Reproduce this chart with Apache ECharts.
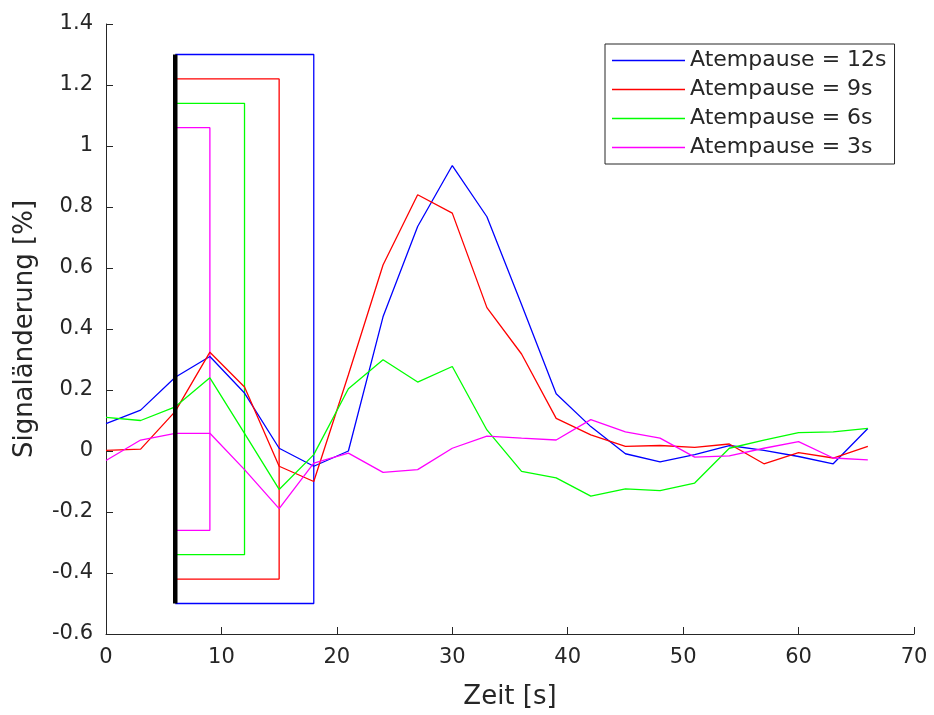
<!DOCTYPE html>
<html>
<head>
<meta charset="utf-8">
<script src="https://cdn.jsdelivr.net/npm/echarts@6/dist/echarts.min.js"></script>
<style>
  html, body { margin: 0; padding: 0; background: #ffffff; }
  #chart { width: 934px; height: 715px; }
</style>
</head>
<body>
<div id="chart"></div>
<script>
// ---- data ----
const time = [0, 3, 6, 9, 12, 15, 18, 21, 24, 27, 30, 33, 36, 39, 42, 45, 48, 51, 54, 57, 60, 63, 66];
const pause12 = [0.09, 0.134, 0.242, 0.31, 0.19, 0.009, -0.05, 0.0, 0.44, 0.736, 0.936, 0.768, 0.48, 0.188, 0.08, -0.009, -0.036, -0.012, 0.018, 0.002, -0.018, -0.042, 0.074];
const pause9 = [0.002, 0.006, 0.13, 0.324, 0.21, -0.05, -0.1, 0.25, 0.61, 0.84, 0.78, 0.47, 0.318, 0.107, 0.053, 0.015, 0.018, 0.012, 0.023, -0.042, -0.005, -0.023, 0.015];
const pause6 = [0.11, 0.10, 0.145, 0.24, 0.058, -0.126, -0.012, 0.204, 0.299, 0.226, 0.277, 0.069, -0.067, -0.088, -0.148, -0.124, -0.13, -0.105, 0.009, 0.036, 0.06, 0.063, 0.074];
const pause3 = [-0.031, 0.036, 0.058, 0.058, -0.061, -0.189, -0.04, -0.007, -0.07, -0.061, 0.009, 0.049, 0.042, 0.036, 0.103, 0.063, 0.042, -0.02, -0.016, 0.009, 0.031, -0.023, -0.029];
const seriesNames = ['Atempause = 12s', 'Atempause = 9s', 'Atempause = 6s', 'Atempause = 3s'];
// breath-hold interval boxes
const holdStart = 6;
const holdEnd = [18, 15, 12, 9];
const boxTop = [1.3, 1.22, 1.14, 1.06];
const boxBottom = [-0.5, -0.42, -0.34, -0.26];
const barTop = 1.3;
const barBottom = -0.5;
const xTicks = [0, 10, 20, 30, 40, 50, 60, 70];
const yTicks = [-0.6, -0.4, -0.2, 0, 0.2, 0.4, 0.6, 0.8, 1, 1.2, 1.4];

const colors = ['#0000ff', '#ff0000', '#00ff00', '#ff00ff'];
const values = [pause12, pause9, pause6, pause3];
const axisColor = '#262626';
const font = 'DejaVu Sans';

const series = [];
// boxes
for (let i = 0; i < 4; i++) {
  series.push({
    name: 'box' + i,
    type: 'line',
    silent: true,
    symbol: 'none',
    animation: false,
    lineStyle: { color: colors[i], width: 1.3 },
    data: [[holdStart, boxTop[i]], [holdEnd[i], boxTop[i]], [holdEnd[i], boxBottom[i]], [holdStart, boxBottom[i]]],
    z: 2
  });
}
// data lines
for (let i = 0; i < 4; i++) {
  series.push({
    name: seriesNames[i],
    type: 'line',
    symbol: 'none',
    animation: false,
    itemStyle: { color: colors[i] },
    lineStyle: { color: colors[i], width: 1.3 },
    data: time.map((t, k) => [t, values[i][k]]),
    z: 3
  });
}
// black onset bar
series.push({
  name: 'onset',
  type: 'line',
  silent: true,
  symbol: 'none',
  animation: false,
  lineStyle: { color: '#000000', width: 4.5 },
  data: [[holdStart, barBottom], [holdStart, barTop]],
  z: 4
});

const chart = echarts.init(document.getElementById('chart'), null, { renderer: 'canvas' });
chart.setOption({
  animation: false,
  backgroundColor: '#ffffff',
  textStyle: { fontFamily: font },
  grid: { left: 106, right: 20, top: 24, bottom: 76, containLabel: false },
  legend: {
    data: seriesNames.map((n, i) => ({ name: n, icon: 'rect', itemStyle: { color: colors[i] } })),
    orient: 'vertical',
    left: 605,
    top: 44,
    padding: [5, 8, 5, 7],
    itemGap: 6,
    itemWidth: 73,
    itemHeight: 1.5,
    backgroundColor: '#ffffff',
    borderColor: axisColor,
    borderWidth: 1,
    borderRadius: 0,
    textStyle: { fontFamily: font, fontSize: 22, color: axisColor, lineHeight: 23, padding: [0, 0, 0, 0] },
    itemTextGap: 6,
    selectedMode: false
  },
  xAxis: {
    type: 'value',
    min: xTicks[0],
    max: xTicks[xTicks.length - 1],
    interval: 10,
    name: 'Zeit [s]',
    nameLocation: 'middle',
    nameGap: 50,
    nameTextStyle: { fontFamily: font, fontSize: 26, color: axisColor },
    axisLine: { show: true, onZero: false, lineStyle: { color: axisColor, width: 1 } },
    axisTick: { show: true, inside: true, length: 7, lineStyle: { color: axisColor } },
    axisLabel: { fontFamily: font, fontSize: 21, color: axisColor, margin: 13 },
    splitLine: { show: false }
  },
  yAxis: {
    type: 'value',
    min: yTicks[0],
    max: yTicks[yTicks.length - 1],
    interval: 0.2,
    name: 'Signaländerung [%]',
    nameLocation: 'middle',
    nameGap: 68,
    nameRotate: 90,
    nameTextStyle: { fontFamily: font, fontSize: 26, color: axisColor },
    axisLine: { show: true, onZero: false, lineStyle: { color: axisColor, width: 1 } },
    axisTick: { show: true, inside: true, length: 7, lineStyle: { color: axisColor } },
    axisLabel: {
      fontFamily: font, fontSize: 21, color: axisColor, margin: 13,
      formatter: v => String(Math.round(v * 10) / 10)
    },
    splitLine: { show: false }
  },
  series: series
});
</script>
</body>
</html>
